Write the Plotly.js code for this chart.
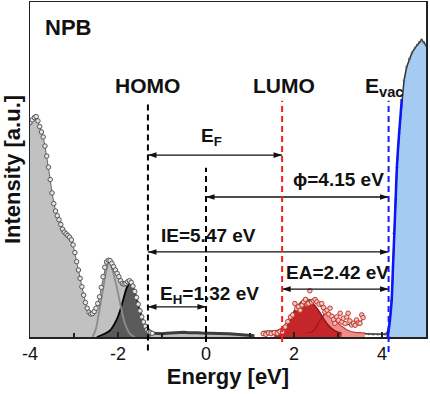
<!DOCTYPE html>
<html>
<head>
<meta charset="utf-8">
<script src="https://cdn.plot.ly/plotly-3.0.1.min.js"></script>
<style>html,body{margin:0;padding:0;background:#fff;}#chart{width:430px;height:394px;}</style>
</head>
<body>
<div id="chart"></div>
<script>
// ---------- data ----------
// energy levels [eV]
const homoE = -1.32, efE = 0, lumoE = 1.73, evacE = 4.15;

// UPS valence spectrum (measured points)
const upsE = [-4.00,-3.95,-3.90,-3.86,-3.82,-3.78,-3.74,-3.70,-3.66,-3.62,-3.58,-3.54,-3.50,-3.46,-3.42,-3.38,-3.34,-3.30,-3.26,-3.22,-3.18,-3.14,-3.10,-3.06,-3.02,-2.98,-2.94,-2.90,-2.86,-2.82,-2.78,-2.74,-2.70,-2.66,-2.62,-2.58,-2.54,-2.50,-2.46,-2.42,-2.38,-2.34,-2.30,-2.26,-2.22,-2.18,-2.14,-2.10,-2.06,-2.02,-1.98,-1.94,-1.90,-1.86,-1.82,-1.78,-1.74,-1.70,-1.66,-1.62,-1.58,-1.54,-1.50,-1.46,-1.42,-1.38,-1.34,-1.30,-1.26,-1.22];
const upsI = [0.640,0.648,0.655,0.658,0.645,0.628,0.612,0.597,0.570,0.540,0.507,0.470,0.430,0.398,0.376,0.362,0.350,0.336,0.322,0.313,0.308,0.303,0.298,0.290,0.275,0.252,0.225,0.200,0.175,0.150,0.125,0.103,0.086,0.074,0.069,0.070,0.076,0.086,0.100,0.120,0.148,0.180,0.208,0.224,0.229,0.228,0.220,0.210,0.200,0.190,0.180,0.168,0.160,0.158,0.160,0.165,0.168,0.163,0.152,0.136,0.118,0.098,0.078,0.060,0.045,0.032,0.022,0.016,0.013,0.011];

// low-intensity tail inside the gap
const tailE = [-1.18,-1.10,-1.00,-0.90,-0.80,-0.70,-0.60,-0.50,-0.40,-0.30,-0.20,-0.10,0.00,0.10,0.20,0.30,0.40,0.50,0.60,0.70,0.80,0.90,1.00,1.10];
const tailI = [0.011,0.010,0.010,0.011,0.012,0.012,0.013,0.014,0.013,0.014,0.013,0.012,0.012,0.011,0.012,0.011,0.010,0.010,0.009,0.008,0.008,0.007,0.006,0.004];

// fitted HOMO components
const g1E = [-2.58,-2.50,-2.45,-2.39,-2.33,-2.27,-2.20,-2.13,-2.03,-1.95,-1.84,-1.73,-1.62];
const g1I = [0.000,0.025,0.060,0.105,0.150,0.195,0.225,0.200,0.150,0.100,0.040,0.010,0.000];
const g2E = [-2.48,-2.33,-2.18,-2.03,-1.95,-1.88,-1.82,-1.77,-1.72,-1.66,-1.58,-1.50,-1.42,-1.35,-1.30,-1.26];
const g2I = [0.000,0.008,0.020,0.052,0.080,0.112,0.140,0.155,0.163,0.150,0.118,0.078,0.045,0.022,0.014,0.010];

// secondary-electron cutoff
const cutE = [3.60,3.70,3.80,3.90,4.00,4.06,4.10,4.14,4.18,4.22,4.25,4.27,4.31,4.34,4.39,4.45,4.50,4.56,4.62,4.68,4.75,4.80,4.85,4.90,4.95,5.00];
const cutI = [0.010,0.009,0.008,0.008,0.008,0.008,0.010,0.021,0.051,0.110,0.209,0.310,0.409,0.507,0.609,0.707,0.765,0.806,0.830,0.848,0.863,0.872,0.880,0.887,0.880,0.870];
const cutFitE = [4.13,4.18,4.22,4.25,4.28,4.31,4.34,4.39,4.45];
const cutFitI = [0.000,0.050,0.110,0.210,0.310,0.410,0.510,0.610,0.710];

// IPES (LUMO) measured points
const ipesE = [1.30,1.36,1.42,1.48,1.55,1.62,1.68,1.74,1.80,1.86,1.92,1.97,2.02,2.06,2.10,2.14,2.18,2.22,2.26,2.30,2.33,2.36,2.40,2.44,2.48,2.52,2.57,2.63,2.67,2.70,2.75,2.79,2.82,2.86,2.90,2.93,2.97,3.01,3.05,3.09,3.12,3.16,3.20,3.23,3.27,3.31,3.35,3.39,3.42,3.46,3.50,3.54,3.57];
const ipesI = [0.010,0.008,0.012,0.010,0.013,0.011,0.016,0.015,0.030,0.046,0.060,0.066,0.100,0.085,0.090,0.080,0.095,0.105,0.112,0.098,0.100,0.138,0.104,0.108,0.112,0.105,0.098,0.100,0.088,0.075,0.080,0.068,0.086,0.062,0.052,0.041,0.060,0.050,0.071,0.045,0.056,0.040,0.060,0.071,0.048,0.036,0.041,0.035,0.051,0.042,0.041,0.066,0.058];

// IPES fit components and envelope
const r1E = [1.55,1.66,1.76,1.86,1.95,2.03,2.10,2.18,2.25,2.30,2.37,2.44,2.50,2.58,2.67,2.76,2.86,2.97,3.08];
const r1I = [0.012,0.014,0.020,0.036,0.060,0.080,0.095,0.106,0.110,0.110,0.106,0.098,0.090,0.075,0.055,0.038,0.025,0.016,0.012];
const r2E = [2.30,2.40,2.48,2.55,2.62,2.68,2.74,2.81,2.88,2.93,3.00,3.08,3.16,3.26,3.39,3.50,3.61];
const r2I = [0.012,0.014,0.025,0.040,0.055,0.066,0.072,0.070,0.060,0.052,0.042,0.032,0.025,0.018,0.014,0.013,0.012];
const envE = [1.27,1.42,1.56,1.64,1.75,1.87,1.97,2.06,2.15,2.25,2.36,2.48,2.58,2.70,2.81,2.93,3.05,3.16,3.28,3.39,3.47,3.55];
const envI = [0.016,0.018,0.019,0.021,0.030,0.050,0.072,0.090,0.104,0.112,0.112,0.106,0.095,0.080,0.070,0.060,0.050,0.040,0.036,0.037,0.042,0.050];

// double-headed arrows: [from, to, height]
const arrowFrom = [homoE, efE, homoE, lumoE, homoE];
const arrowTo   = [lumoE, evacE, evacE, evacE, efE];
const arrowY    = [0.543, 0.418, 0.254, 0.143, 0.090];

// axis ticks
const tickVals = [-4, -2, 0, 2, 4];
const tickText = ['-4', '-2', '0', '2', '4'];

// ---------- traces ----------
const FONT = 'Liberation Sans, Arial, sans-serif';
const traces = [
  {x: upsE.concat(tailE), y: upsI.concat(tailI), type: 'scatter', mode: 'lines',
   line: {width: 0, color: '#c1c1c1'}, fill: 'tozeroy', fillcolor: '#c1c1c1', hoverinfo: 'skip'},
  {x: g2E, y: g2I, type: 'scatter', mode: 'lines', line: {color: '#000', width: 1.8, shape: 'spline'},
   fill: 'tozeroy', fillcolor: '#5a5a5a'},
  {x: g1E, y: g1I, type: 'scatter', mode: 'lines', line: {color: '#8c8c8c', width: 1.8, shape: 'spline'}},
  {x: tailE, y: tailI, type: 'scatter', mode: 'lines', line: {color: '#3c3c3c', width: 3}},
  {x: upsE, y: upsI, type: 'scatter', mode: 'lines+markers', line: {color: '#666', width: 1},
   marker: {symbol: 'circle', size: 4.5, color: '#e6e6e6', line: {color: '#555', width: 1}}},
  {x: cutE.slice(6), y: cutI.slice(6), type: 'scatter', mode: 'lines', line: {width: 0, color: '#a5cbf2'},
   fill: 'tozeroy', fillcolor: '#a5cbf2'},
  {x: cutE, y: cutI, type: 'scatter', mode: 'lines+markers', line: {color: '#333', width: 1.5},
   marker: {size: 2.5, color: '#555'}},
  {x: cutFitE, y: cutFitI, type: 'scatter', mode: 'lines', line: {color: '#0a14ff', width: 2.5, shape: 'spline'}},
  {x: r2E, y: r2I, type: 'scatter', mode: 'lines', line: {color: '#c43a3a', width: 1.2, shape: 'spline'},
   fill: 'tozeroy', fillcolor: '#f08c8c'},
  {x: r1E, y: r1I, type: 'scatter', mode: 'lines', line: {color: '#8e1212', width: 1.4, shape: 'spline'},
   fill: 'tozeroy', fillcolor: '#c4262a'},
  {x: r2E.slice(0, 8), y: r2I.slice(0, 8), type: 'scatter', mode: 'lines', line: {color: '#9a1a1a', width: 1.2, shape: 'spline'}},
  {x: envE, y: envI, type: 'scatter', mode: 'lines', line: {color: '#555', width: 1.2, shape: 'spline'}},
  {x: ipesE, y: ipesI, type: 'scatter', mode: 'markers',
   marker: {symbol: 'circle', size: 4.5, color: '#f4c4c4', line: {color: '#c0392b', width: 1}}}
];
// arrows as line traces with arrow-head markers
for (let i = 0; i < arrowFrom.length; i++) {
  traces.push({
    x: [arrowFrom[i], arrowTo[i]], y: [arrowY[i], arrowY[i]], type: 'scatter', mode: 'lines+markers',
    line: {color: '#111', width: 1.4},
    marker: {symbol: 'arrow', size: 9, color: '#111', angle: [-90, 90], line: {width: 0}},
    cliponaxis: false
  });
}

// ---------- text labels ----------
function label(text, x, y, size, xanchor) {
  return {x: x, y: y, xref: 'x', yref: 'y', text: text, showarrow: false, xanchor: xanchor || 'center',
          yanchor: 'middle', font: {family: FONT, size: size, color: '#111', weight: 'bold'}};
}
const annotations = [
  label('NPB', -3.14, 0.925, 22),
  label('HOMO', homoE, 0.752, 21),
  label('LUMO', 1.77, 0.752, 21),
  label('E<sub>vac</sub>', 3.57, 0.745, 21, 'left'),
  label('E<sub>F</sub>', -0.15, 0.598, 19, 'left'),
  label('\u03d5=4.15 eV', 3.0, 0.469, 19),
  label('IE=5.47 eV', 0.06, 0.304, 19),
  label('E<sub>H</sub>=1.32 eV', -1.09, 0.125, 19, 'left'),
  label('EA=2.42 eV', 2.99, 0.194, 19)
];

const dash = '6px,4px';
const shapes = [
  {type: 'line', xref: 'x', yref: 'paper', x0: homoE, x1: homoE, y0: -0.04, y1: 0.70, line: {color: '#000', width: 2, dash: dash}},
  {type: 'line', xref: 'x', yref: 'paper', x0: efE, x1: efE, y0: -0.015, y1: 0.505, line: {color: '#000', width: 2, dash: dash}},
  {type: 'line', xref: 'x', yref: 'paper', x0: lumoE, x1: lumoE, y0: -0.015, y1: 0.705, line: {color: '#ff1a1a', width: 2, dash: dash}},
  {type: 'line', xref: 'x', yref: 'paper', x0: evacE, x1: evacE, y0: -0.045, y1: 0.705, line: {color: '#1a1aff', width: 2, dash: dash}}
];

const layout = {
  width: 430, height: 394,
  margin: {l: 30, r: 4, t: 2, b: 57},
  paper_bgcolor: '#fff', plot_bgcolor: '#fff',
  showlegend: false,
  font: {family: FONT, color: '#111'},
  xaxis: {
    range: [-4, 5], showgrid: false, zeroline: false,
    showline: true, mirror: true, linecolor: '#222', linewidth: 1.5,
    ticks: 'inside', ticklen: 5, tickwidth: 1.2, tickcolor: '#222',
    tickvals: tickVals, ticktext: tickText,
    minor: {ticks: 'inside', dtick: 1, ticklen: 4, tickcolor: '#222'},
    tickfont: {family: FONT, size: 18, color: '#111'},
    title: {text: 'Energy [eV]', font: {family: FONT, size: 22, color: '#111', weight: 'bold'}, standoff: 3}
  },
  yaxis: {
    range: [0, 1], showgrid: false, zeroline: false,
    showline: true, mirror: true, linecolor: '#222', linewidth: 1.5,
    showticklabels: false, ticks: '',
    title: {text: 'Intensity [a.u.]', font: {family: FONT, size: 22, color: '#111', weight: 'bold'}, standoff: 3}
  },
  annotations: annotations,
  shapes: shapes
};

Plotly.newPlot('chart', traces, layout, {staticPlot: true, displayModeBar: false});
</script>
</body>
</html>
